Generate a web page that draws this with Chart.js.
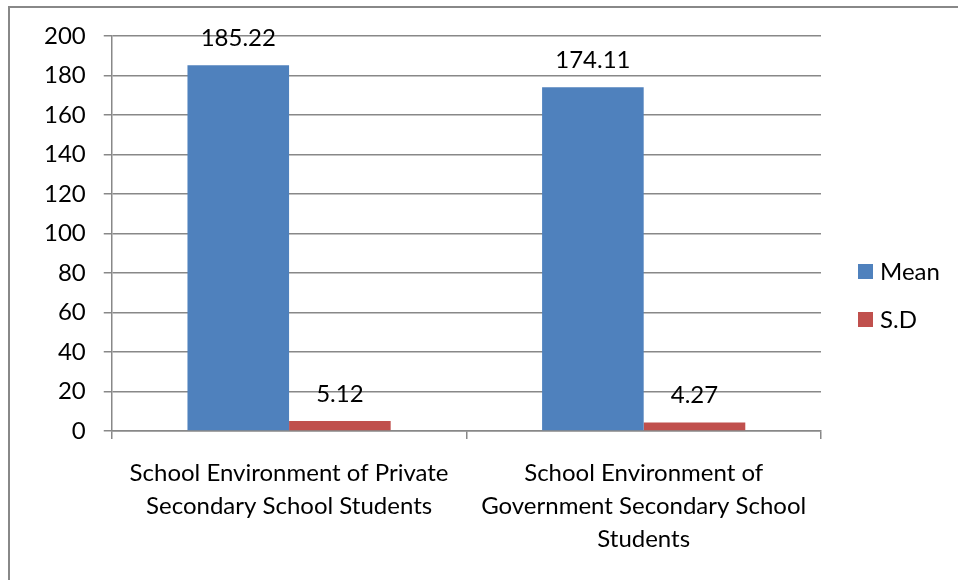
<!DOCTYPE html>
<html>
<head>
<meta charset="utf-8">
<script src="https://cdn.jsdelivr.net/npm/chart.js@4.4.0/dist/chart.umd.min.js"></script>
<style>
 html, body { margin: 0; padding: 0; background: #fff; }
 #wrap { position: relative; width: 958px; height: 580px; }
 #frame { position: absolute; left: 8px; top: 6px; right: 0; bottom: 0; border-left: 2px solid #888; border-top: 2px solid #888; }
</style>
</head>
<body>
<div id="wrap">
 <div id="frame"></div>
 <canvas id="envChart" width="958" height="580"></canvas>
</div>
<script>
let groups = [
 ['School Environment of Private', 'Secondary School Students'],
 ['School Environment of', 'Government Secondary School', 'Students']
];
let meanValues = [185.22, 174.11];
let sdValues = [5.12, 4.27];
let yTicks = [0, 20, 40, 60, 80, 100, 120, 140, 160, 180, 200];

let fontFamily = 'Lato, "Open Sans", sans-serif';
let fontSize = 24;

// value printed above each bar
let barValues = {
 id: 'barValues',
 afterDatasetsDraw(chart) {
  let ctx = chart.ctx;
  ctx.save();
  ctx.font = fontSize + 'px ' + fontFamily;
  ctx.fillStyle = '#000';
  ctx.textAlign = 'center';
  ctx.textBaseline = 'middle';
  chart.data.datasets.forEach((ds, i) => {
   chart.getDatasetMeta(i).data.forEach((bar, j) => {
    ctx.fillText(ds.data[j].toFixed(2), bar.x, bar.y - 27);
   });
  });
  ctx.restore();
 }
};

// legend on the right, squares and names
let sideLegend = {
 id: 'sideLegend',
 afterDraw(chart) {
  let ctx = chart.ctx;
  let x = chart.chartArea.right + 37;
  let y = 271;
  ctx.save();
  ctx.font = fontSize + 'px ' + fontFamily;
  ctx.textBaseline = 'middle';
  chart.data.datasets.forEach((ds) => {
   ctx.fillStyle = ds.backgroundColor;
   ctx.fillRect(x, y - 7, 15, 15);
   ctx.fillStyle = '#000';
   ctx.fillText(ds.label, x + 22, y + 1);
   y += 48;
  });
  ctx.restore();
 }
};

let envChart = document.getElementById('envChart').getContext('2d');
let chart1 = new Chart(envChart, {
 type: 'bar',
 data: {
  labels: groups,
  datasets: [
   {
    label: 'Mean',
    data: meanValues,
    backgroundColor: '#4f81bd',
    categoryPercentage: 0.573,
    barPercentage: 1.0,
   },
   {
    label: 'S.D',
    data: sdValues,
    backgroundColor: '#c0504d',
    categoryPercentage: 0.573,
    barPercentage: 1.0,
   }
  ]
 },
 options: {
  responsive: false,
  animation: false,
  layout: {
   padding: { top: 36, right: 137, bottom: 6, left: 26 }
  },
  plugins: {
   legend: { display: false },
   tooltip: { enabled: false }
  },
  scales: {
   x: {
    grid: {
     offset: true,
     drawOnChartArea: false,
     drawTicks: true,
     tickLength: 8,
     color: '#888',
     lineWidth: 1.5,
    },
    border: { color: '#888', width: 1.5 },
    ticks: {
     color: '#000',
     font: { family: fontFamily, size: fontSize, lineHeight: 1.375 },
     padding: 18,
     maxRotation: 0,
     autoSkip: false,
    }
   },
   y: {
    min: 0,
    max: 200,
    afterBuildTicks(scale) {
     scale.ticks = yTicks.map(v => ({ value: v }));
    },
    grid: {
     color: '#888',
     lineWidth: 1.5,
     tickLength: 8,
    },
    border: { color: '#888', width: 1.5 },
    ticks: {
     color: '#000',
     font: { family: fontFamily, size: fontSize },
     padding: 18,
    }
   }
  }
 },
 plugins: [barValues, sideLegend]
});
</script>
</body>
</html>
